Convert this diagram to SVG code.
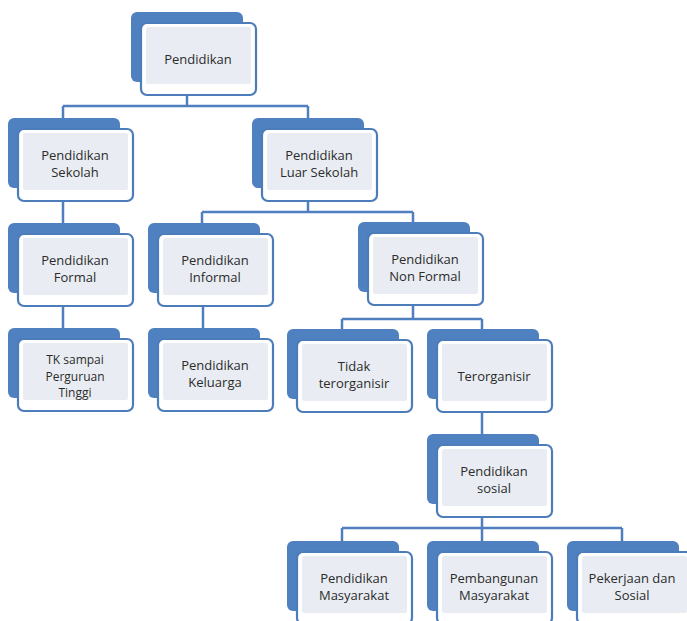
<svg xmlns="http://www.w3.org/2000/svg" width="687" height="621" viewBox="0 0 687 621">
<style>
.back{fill:#4f80bf;}
.front{fill:#ffffff;stroke:#4d7cba;stroke-width:2.2;}
.inner{fill:#e9edf3;}
.lbl{font-family:"Open Sans","Noto Sans",sans-serif;font-size:13px;fill:#2b2b2b;text-anchor:middle;}
.sm{font-size:12px;}
.conn{fill:none;stroke:#4f7fbf;stroke-width:2.5;}
</style>
<defs>
<g id="box">
<rect class="back" x="-10" y="-11" width="112" height="70" rx="6"/>
<rect class="front" x="0" y="0" width="115" height="72" rx="6"/>
<rect class="inner" x="5" y="4" width="105" height="57" rx="2"/>
</g>
</defs>
<rect width="687" height="621" fill="#ffffff"/>
<g id="connectors">
<path class="conn" d="M187 95V106M63 106H308M63 106V118M308 106V118"/>
<path class="conn" d="M63 201V224"/>
<path class="conn" d="M308 200V212M202 212H413M202 212V224M413 212V223"/>
<path class="conn" d="M63 307V329"/>
<path class="conn" d="M203 307V329"/>
<path class="conn" d="M413 305V319M342 319H482M342 319V330M482 319V330"/>
<path class="conn" d="M482 412V435"/>
<path class="conn" d="M482 517V528M342 528H622M342 528V541M482 528V541M622 528V541"/>
</g>
<g id="n-pendidikan"><use href="#box" x="141" y="23"/><text class="lbl" x="198" y="64">Pendidikan</text></g>
<g id="n-sekolah"><use href="#box" x="18" y="129"/><text class="lbl" x="75" y="160">Pendidikan</text><text class="lbl" x="75" y="177">Sekolah</text></g>
<g id="n-luar"><use href="#box" x="262" y="129"/><text class="lbl" x="319" y="160">Pendidikan</text><text class="lbl" x="319" y="177">Luar Sekolah</text></g>
<g id="n-formal"><use href="#box" x="18" y="234"/><text class="lbl" x="75" y="265">Pendidikan</text><text class="lbl" x="75" y="282">Formal</text></g>
<g id="n-informal"><use href="#box" x="158" y="234"/><text class="lbl" x="215" y="265">Pendidikan</text><text class="lbl" x="215" y="282">Informal</text></g>
<g id="n-nonformal"><use href="#box" x="368" y="233"/><text class="lbl" x="425" y="264">Pendidikan</text><text class="lbl" x="425" y="281">Non Formal</text></g>
<g id="n-tk"><use href="#box" x="18" y="339"/><text class="lbl sm" x="75" y="364">TK sampai</text><text class="lbl sm" x="75" y="380.5">Perguruan</text><text class="lbl sm" x="75" y="397">Tinggi</text></g>
<g id="n-keluarga"><use href="#box" x="158" y="339"/><text class="lbl" x="215" y="370">Pendidikan</text><text class="lbl" x="215" y="387">Keluarga</text></g>
<g id="n-tidak"><use href="#box" x="297" y="340"/><text class="lbl" x="354" y="371">Tidak</text><text class="lbl" x="354" y="388">terorganisir</text></g>
<g id="n-terorganisir"><use href="#box" x="437" y="340"/><text class="lbl" x="494" y="381">Terorganisir</text></g>
<g id="n-sosial"><use href="#box" x="437" y="445"/><text class="lbl" x="494" y="476">Pendidikan</text><text class="lbl" x="494" y="493">sosial</text></g>
<g id="n-masyarakat"><use href="#box" x="297" y="552"/><text class="lbl" x="354" y="583">Pendidikan</text><text class="lbl" x="354" y="600">Masyarakat</text></g>
<g id="n-pembangunan"><use href="#box" x="437" y="552"/><text class="lbl" x="494" y="583">Pembangunan</text><text class="lbl" x="494" y="600">Masyarakat</text></g>
<g id="n-pekerjaan"><use href="#box" x="577" y="552"/><text class="lbl" x="632" y="583">Pekerjaan dan</text><text class="lbl" x="632" y="600">Sosial</text></g>
</svg>
